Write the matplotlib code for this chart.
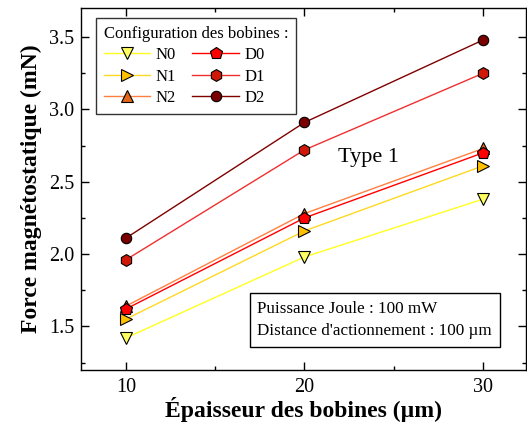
import matplotlib.pyplot as plt
from matplotlib.ticker import MultipleLocator

plt.rcParams['font.family'] = ['Liberation Serif', 'DejaVu Serif']

# Data
epaisseur = [10, 20, 30]
N0 = [1.42, 1.98, 2.38]
N1 = [1.55, 2.16, 2.61]
N2 = [1.64, 2.28, 2.73]
D0 = [1.62, 2.25, 2.70]
D1 = [1.96, 2.72, 3.25]
D2 = [2.11, 2.91, 3.48]

labels = ["N0", "N1", "N2", "D0", "D1", "D2"]
series = [N0, N1, N2, D0, D1, D2]
markers = ["v", ">", "^", "p", "h", "o"]
msizes = [9, 9, 9, 9, 8.5, 7.5]
line_colors = ["#ffff20", "#ffd820", "#ff8040", "#ff0000", "#f03030", "#800000"]
face_colors = ["#ffff60", "#ffc000", "#e06818", "#ff0000", "#d01808", "#7a0000"]

fig = plt.figure(figsize=(5.27, 4.30), dpi=100)
ax = fig.add_axes([0.154, 0.140, 0.844, 0.841])

for lab, y, m, ms, lc, fc in zip(labels, series, markers, msizes, line_colors, face_colors):
    ax.plot(epaisseur, y, color=lc, lw=1.0, marker=m, markersize=ms,
            markerfacecolor=fc, markeredgecolor="black", markeredgewidth=0.8,
            label=lab)

ax.set_xlim(7.5, 32.4)
ax.set_ylim(1.2, 3.7)
ax.xaxis.set_major_locator(MultipleLocator(10))
ax.xaxis.set_minor_locator(MultipleLocator(5))
ax.yaxis.set_major_locator(MultipleLocator(0.5))
ax.yaxis.set_minor_locator(MultipleLocator(0.25))
ax.tick_params(which="both", direction="in", top=True, right=True, width=1)
ax.tick_params(which="major", length=6, labelsize=14.5)
ax.tick_params(which="minor", length=3)
ax.tick_params(axis="x", pad=6)
ax.tick_params(axis="y", pad=5)
for s in ax.spines.values():
    s.set_linewidth(1.0)

ax.set_xlabel("Épaisseur des bobines (µm)", fontsize=17, fontweight="bold", labelpad=0)
ax.set_ylabel("Force magnétostatique (mN)", fontsize=17, fontweight="bold", labelpad=5)

leg = ax.legend(ncol=2, loc="upper left", bbox_to_anchor=(0.034, 0.972),
                title="Configuration des bobines :", fontsize=12,
                title_fontsize=12, alignment="left", frameon=True,
                fancybox=False, edgecolor="black", handlelength=2.8,
                columnspacing=1.0, labelspacing=0.33, borderpad=0.45,
                handletextpad=0.3, borderaxespad=0)
leg.get_frame().set_linewidth(1.0)

ax.text(23.6, 2.67, "Type 1", fontsize=16, ha="center", va="center")

ax.text(0.396, 0.138, "Puissance Joule : 100 mW\nDistance d'actionnement : 100 µm",
        transform=ax.transAxes, fontsize=12.3, va="center", ha="left",
        linespacing=1.5,
        bbox=dict(boxstyle="square,pad=0.45", facecolor="white",
                  edgecolor="black", linewidth=1.0))

fig.savefig("out.png", dpi=100)
